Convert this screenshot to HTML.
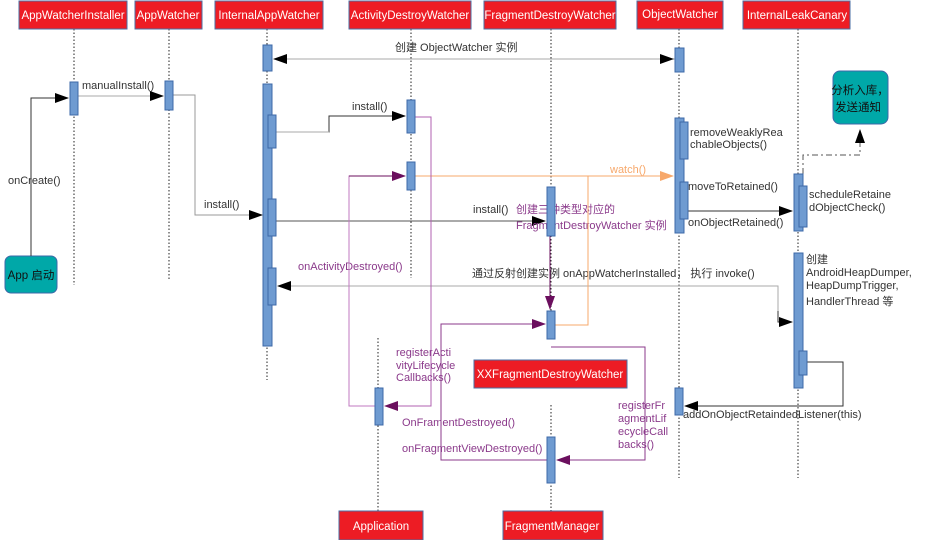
<!DOCTYPE html>
<html><head><meta charset="utf-8"><style>
body{margin:0;background:#fff;width:926px;height:540px;overflow:hidden}
text{font-family:"Liberation Sans","Noto Sans CJK SC",sans-serif;font-size:11px;fill:#333}
.h{fill:#ed1c24;stroke:#4a6fa5;stroke-width:1}
.ht{fill:#fff;font-size:11.5px;text-anchor:middle}
.a{fill:#6f9bd1;stroke:#3d68a8;stroke-width:1}
.ll{stroke:#222;stroke-dasharray:1.5,2;stroke-width:1}
.p{fill:#8b3a8b}
</style></head><body>
<svg width="926" height="540" xmlns="http://www.w3.org/2000/svg">
<defs>
<marker id="mb" markerWidth="14" markerHeight="10" refX="13" refY="5" orient="auto" markerUnits="userSpaceOnUse"><path d="M0,0L14,5L0,10z" fill="#000"/></marker>
<marker id="mp" markerWidth="14" markerHeight="10" refX="13" refY="5" orient="auto" markerUnits="userSpaceOnUse"><path d="M0,0L14,5L0,10z" fill="#6b0f5e"/></marker>
<marker id="mo" markerWidth="14" markerHeight="10" refX="13" refY="5" orient="auto" markerUnits="userSpaceOnUse"><path d="M0,0L14,5L0,10z" fill="#f7a86b"/></marker>
</defs>
<!-- lifelines -->
<line class="ll" x1="74" y1="29" x2="74" y2="285"/>
<line class="ll" x1="169" y1="29" x2="169" y2="280"/>
<line class="ll" x1="267" y1="29" x2="267" y2="380"/>
<line class="ll" x1="411" y1="29" x2="411" y2="278"/>
<line class="ll" x1="551" y1="29" x2="551" y2="311"/>
<line class="ll" x1="679" y1="29" x2="679" y2="478"/>
<line class="ll" x1="798" y1="29" x2="798" y2="478"/>
<line class="ll" x1="378" y1="338" x2="378" y2="512"/>
<line class="ll" x1="551" y1="405" x2="551" y2="512"/>
<!-- headers -->
<rect class="h" x="19" y="1" width="108" height="28"/><text class="ht" x="73" y="19">AppWatcherInstaller</text>
<rect class="h" x="135" y="1" width="67" height="28"/><text class="ht" x="168" y="19">AppWatcher</text>
<rect class="h" x="215" y="1" width="108" height="28"/><text class="ht" x="269" y="19">InternalAppWatcher</text>
<rect class="h" x="349" y="1" width="122" height="28"/><text class="ht" x="410" y="19">ActivityDestroyWatcher</text>
<rect class="h" x="484" y="1" width="132" height="28"/><text class="ht" x="550" y="19">FragmentDestroyWatcher</text>
<rect class="h" x="637" y="1" width="86" height="28"/><text class="ht" x="680" y="18">ObjectWatcher</text>
<rect class="h" x="743" y="1" width="107" height="28"/><text class="ht" x="797" y="19">InternalLeakCanary</text>
<rect class="h" x="339" y="511" width="84" height="29"/><text class="ht" x="381" y="530">Application</text>
<rect class="h" x="503" y="511" width="100" height="29"/><text class="ht" x="552" y="530">FragmentManager</text>
<rect class="h" x="474" y="360" width="153" height="28"/><text class="ht" x="550" y="378">XXFragmentDestroyWatcher</text>
<!-- teal boxes -->
<rect x="5" y="256" width="52" height="37" rx="6" fill="#00a8a8" stroke="#3d68a8"/><text x="31" y="279" text-anchor="middle" style="fill:#111;font-size:11.5px">App 启动</text>
<rect x="833" y="71" width="55" height="53" rx="7" fill="#00a8a8" stroke="#3d68a8"/><text x="860" y="94" text-anchor="middle" style="fill:#111;font-size:11.5px">分析入库，</text><text x="858" y="111" text-anchor="middle" style="fill:#111;font-size:11.5px">发送通知</text>
<!-- connectors -->
<polyline points="31,256 31,98 68,98" fill="none" stroke="#333" marker-end="url(#mb)"/>
<text x="8" y="184">onCreate()</text>
<line x1="78" y1="96" x2="163" y2="96" stroke="#aaa" marker-end="url(#mb)"/>
<text x="82" y="89">manualInstall()</text>
<polyline points="173,95 195,95 195,215 262,215" fill="none" stroke="#999" marker-end="url(#mb)"/>
<text x="204" y="208">install()</text>
<line x1="677" y1="59" x2="274" y2="59" stroke="#aaa" marker-end="url(#mb)"/>
<line x1="277" y1="59" x2="673" y2="59" stroke="none" marker-end="url(#mb)"/>
<text x="395" y="51">创建 ObjectWatcher 实例</text>
<polyline points="276,132 329,132 329,116 405,116" fill="none" stroke="#333" marker-end="url(#mb)"/>
<polyline points="276,132 329,132" fill="none" stroke="#aaa"/>
<text x="352" y="110">install()</text>
<line x1="276" y1="221" x2="545" y2="221" stroke="#555" marker-end="url(#mb)"/>
<text x="473" y="213">install()</text>
<text x="516" y="213" class="p">创建三种类型对应的</text>
<text x="516" y="229" class="p">FragmentDestroyWatcher 实例</text>
<polyline points="792,322 778,322 778,286 278,286" fill="none" stroke="#aaa" marker-end="url(#mb)"/>
<polyline points="778,311 778,322 792,322" fill="none" stroke="#333" marker-end="url(#mb)"/>
<text x="472" y="277">通过反射创建实例 onAppWatcherInstalled， 执行 invoke()</text>
<text x="298" y="270" class="p">onActivityDestroyed()</text>
<!-- orange watch -->
<polyline points="415,176 673,176" fill="none" stroke="#f7a86b" marker-end="url(#mo)"/>
<polyline points="555,325 588,325 588,176" fill="none" stroke="#f7a86b"/>
<text x="610" y="173" style="fill:#f7a86b">watch()</text>
<!-- purple -->
<polyline points="375,406 349,406 349,176 405,176" fill="none" stroke="#c07ac0"/>
<polyline points="349,176 405,176" fill="none" stroke="#6b0f5e" marker-end="url(#mp)"/>
<polyline points="415,117 431,117 431,406 385,406" fill="none" stroke="#b060b0" marker-end="url(#mp)"/>
<text x="396" y="356" class="p">registerActi</text><text x="396" y="369" class="p">vityLifecycle</text><text x="396" y="381" class="p">Callbacks()</text>
<line x1="550" y1="236" x2="550" y2="309" stroke="#6b0f5e" marker-end="url(#mp)"/>
<polyline points="549,460 441,460 441,324 545,324" fill="none" stroke="#8b3a8b" marker-end="url(#mp)"/>
<polyline points="551,347 645,347 645,460 557,460" fill="none" stroke="#8b3a8b" marker-end="url(#mp)"/>
<text x="402" y="426" class="p">OnFramentDestroyed()</text>
<text x="402" y="452" class="p">onFragmentViewDestroyed()</text>
<text x="618" y="409" class="p">registerFr</text><text x="618" y="422" class="p">agmentLif</text><text x="618" y="435" class="p">ecycleCall</text><text x="618" y="448" class="p">backs()</text>
<polyline points="807,362 843,362 843,406 685,406" fill="none" stroke="#333" marker-end="url(#mb)"/>
<text x="683" y="418">addOnObjectRetaindedListener(this)</text>
<line x1="684" y1="211" x2="792" y2="211" stroke="#333" marker-end="url(#mb)"/>
<polyline points="803,174 803,155 860,155 860,130" fill="none" stroke="#555" stroke-dasharray="6,3,2,3" marker-end="url(#mb)"/>
<!-- activations -->
<rect class="a" x="263" y="45" width="9" height="26"/>
<rect class="a" x="263" y="84" width="9" height="262"/>
<rect class="a" x="268" y="115" width="8" height="33"/>
<rect class="a" x="268" y="199" width="8" height="37"/>
<rect class="a" x="268" y="268" width="8" height="37"/>
<rect class="a" x="70" y="82" width="8" height="33"/>
<rect class="a" x="165" y="81" width="8" height="29"/>
<rect class="a" x="407" y="100" width="8" height="33"/>
<rect class="a" x="407" y="162" width="8" height="28"/>
<rect class="a" x="547" y="187" width="8" height="49"/>
<rect class="a" x="547" y="311" width="8" height="28"/>
<rect class="a" x="547" y="437" width="8" height="46"/>
<rect class="a" x="375" y="388" width="8" height="37"/>
<rect class="a" x="675" y="48" width="9" height="24"/>
<rect class="a" x="675" y="118" width="9" height="115"/>
<rect class="a" x="680" y="122" width="8" height="37"/>
<rect class="a" x="680" y="182" width="8" height="37"/>
<rect class="a" x="675" y="388" width="8" height="27"/>
<rect class="a" x="794" y="174" width="9" height="57"/>
<rect class="a" x="799" y="186" width="8" height="41"/>
<rect class="a" x="794" y="253" width="9" height="135"/>
<rect class="a" x="799" y="351" width="8" height="24"/>
<!-- OW/ILC labels -->
<text x="690" y="136">removeWeaklyRea</text><text x="690" y="148">chableObjects()</text>
<text x="688" y="190">moveToRetained()</text>
<text x="688" y="226">onObjectRetained()</text>
<text x="809" y="198">scheduleRetaine</text><text x="809" y="211">dObjectCheck()</text>
<text x="806" y="263">创建</text><text x="806" y="276">AndroidHeapDumper,</text><text x="806" y="289">HeapDumpTrigger,</text><text x="806" y="305">HandlerThread 等</text>
</svg>
</body></html>
